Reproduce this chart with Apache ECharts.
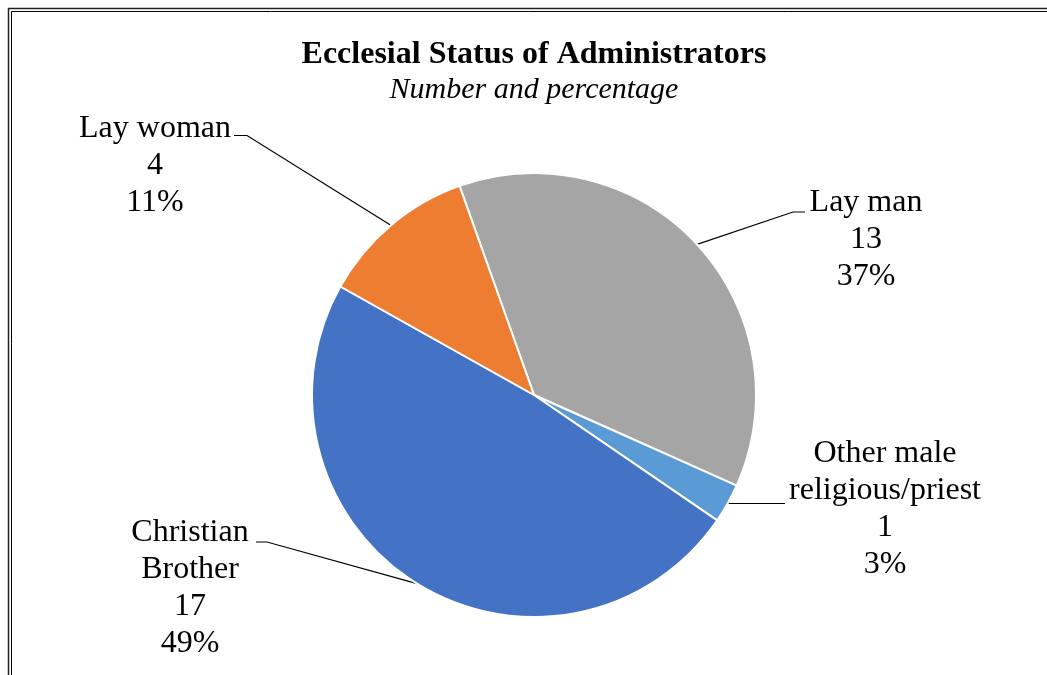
<!DOCTYPE html>
<html>
<head>
<meta charset="utf-8">
<script src="https://cdn.jsdelivr.net/npm/echarts@6/dist/echarts.min.js"></script>
<style>
html,body{margin:0;padding:0;background:#fff;}
#chart{width:1047px;height:675px;}
</style>
</head>
<body>
<div id="chart"></div>
<script>
// Data
const categories = ['Lay man', 'Other male\nreligious/priest', 'Christian\nBrother', 'Lay woman'];
const values = [13, 1, 17, 4];
const colors = ['#A5A5A5', '#5B9BD5', '#4472C4', '#ED7D31'];
const titleText = 'Ecclesial Status of Administrators';
const subtitleText = 'Number and percentage';

// Label layout (positions only)
const labelPos = [
  { x: 866, y: 240, bend: [793, 212], end: [805, 212] },
  { x: 885, y: 509, bend: null, end: [785, null] },
  { x: 190, y: 588, bend: [267, 542], end: [256, 542] },
  { x: 155, y: 166, bend: [247, 135.5], end: [234, 135.5] }
];

const FONT = "'Liberation Serif', 'Times New Roman', serif";
const chart = echarts.init(document.getElementById('chart'), null, { renderer: 'canvas' });

chart.setOption({
  backgroundColor: '#fff',
  animation: false,
  title: [
    { text: titleText, left: 529, top: 34, textAlign: 'center',
      textStyle: { fontFamily: FONT, fontWeight: 'bold', fontSize: 32, color: '#000' } },
    { text: subtitleText, left: 529, top: 70, textAlign: 'center',
      textStyle: { fontFamily: FONT, fontStyle: 'italic', fontWeight: 'normal', fontSize: 30, color: '#000' } }
  ],
  graphic: [
    { type: 'rect', shape: { x: 8.5, y: 8.5, width: 1200, height: 900 }, style: { fill: null, stroke: '#222', lineWidth: 1.5 }, silent: true },
    { type: 'rect', shape: { x: 11.5, y: 11.5, width: 1200, height: 900 }, style: { fill: null, stroke: '#000', lineWidth: 1 }, silent: true }
  ],
  series: [{
    type: 'pie',
    center: [534, 395],
    radius: 222,
    startAngle: 109.6,
    clockwise: true,
    percentPrecision: 0,
    data: categories.map((c, i) => ({ name: c, value: values[i], itemStyle: { color: colors[i] } })),
    itemStyle: { borderColor: '#fff', borderWidth: 2 },
    emphasis: { disabled: true },
    label: {
      show: true,
      position: 'outside',
      formatter: '{b}\n{c}\n{d}%',
      fontFamily: FONT,
      fontSize: 32,
      lineHeight: 37,
      color: '#000',
      align: 'center'
    },
    labelLine: {
      show: true,
      length: 20,
      length2: 20,
      lineStyle: { color: '#000', width: 1.2 }
    },
    labelLayout: function (params) {
      const p = labelPos[params.dataIndex];
      const edge = (params.labelLinePoints && params.labelLinePoints[0]) || [p.end[0], 500];
      const end = [p.end[0], p.end[1] == null ? edge[1] : p.end[1]];
      const pts = p.bend ? [edge, p.bend, end] : [edge, end];
      return { x: p.x, y: p.y, align: 'center', verticalAlign: 'middle', labelLinePoints: pts };
    }
  }]
});
</script>
</body>
</html>
